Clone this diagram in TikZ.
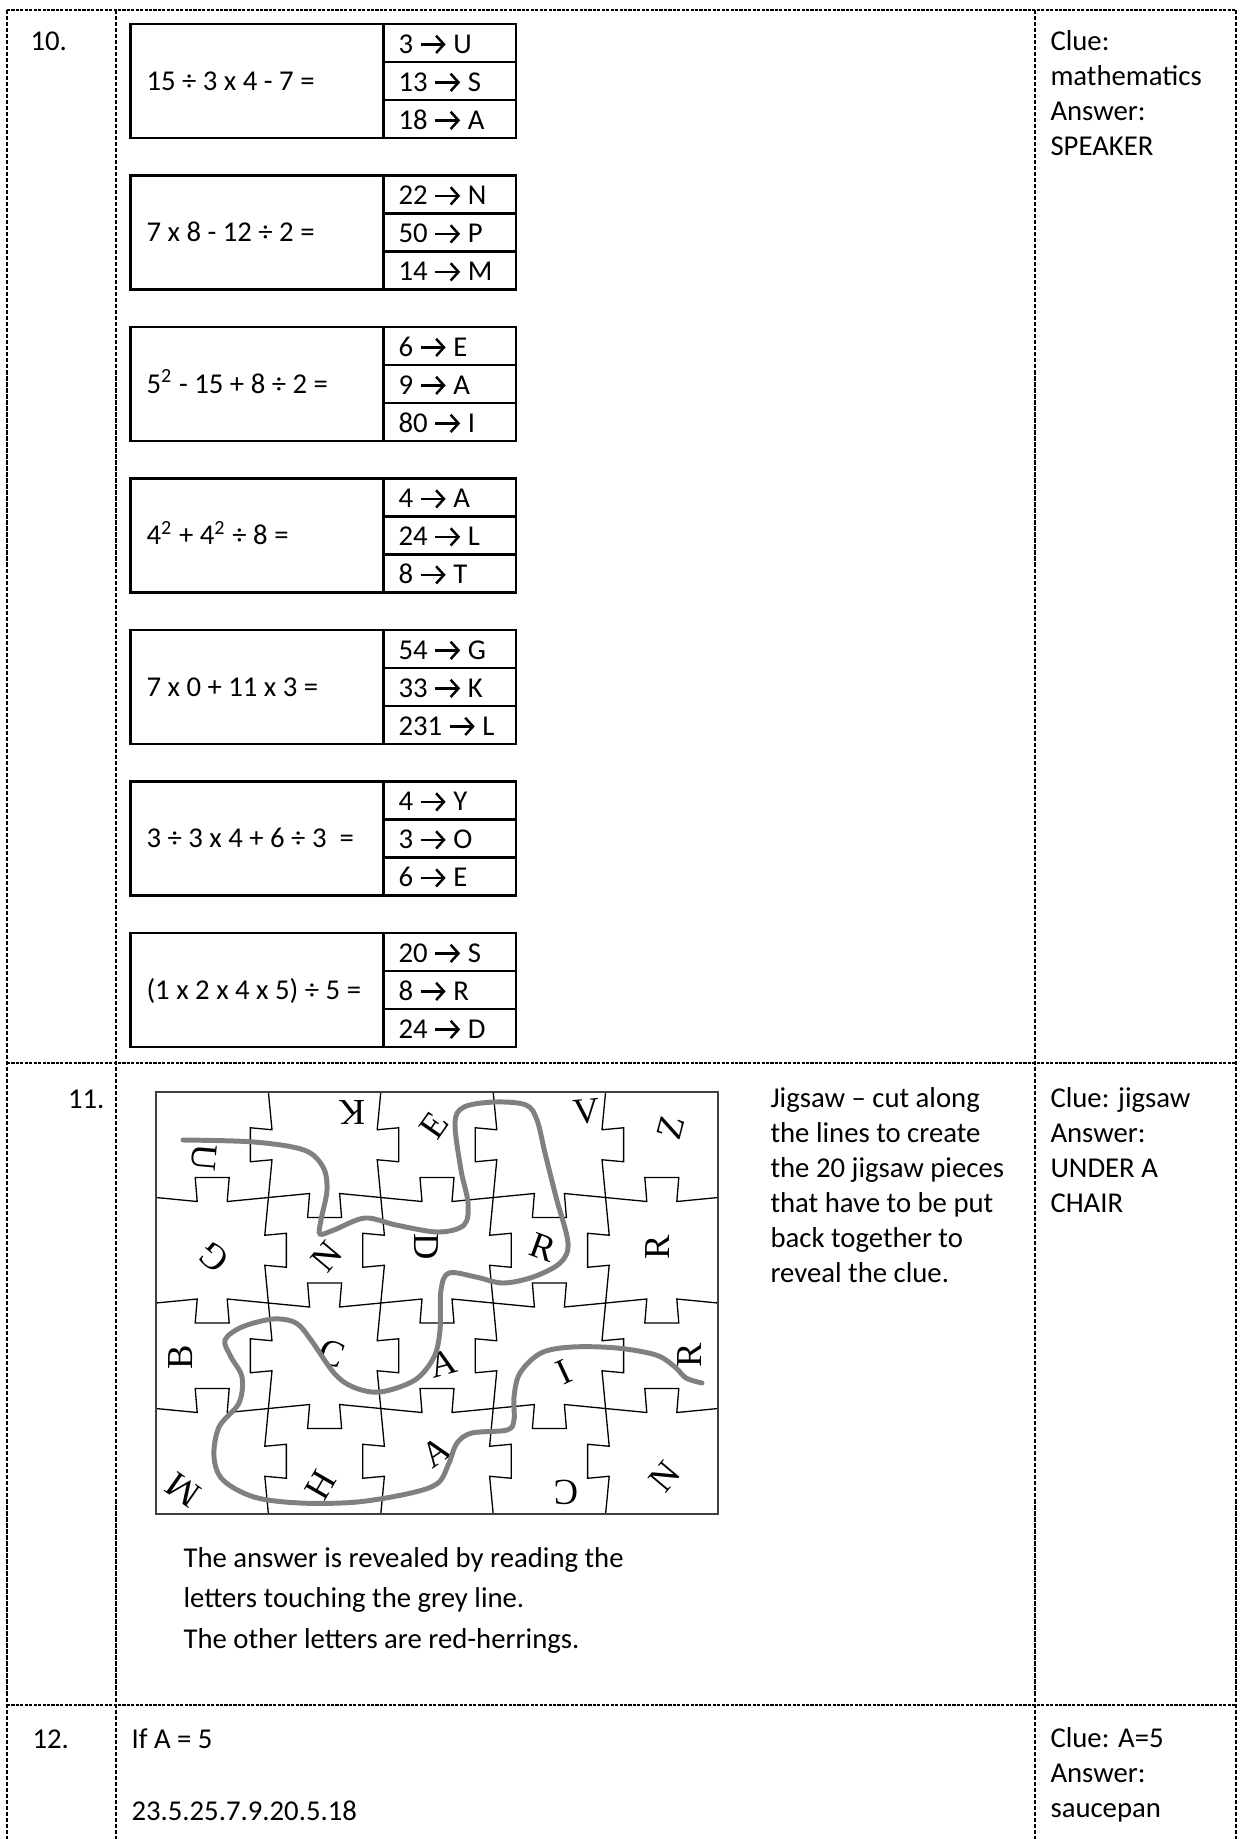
\documentclass[tikz,border=0pt]{standalone}
\usepackage{fontspec}
\usetikzlibrary{arrows.meta}
\setmainfont{Carlito}
\newfontfamily\letterfont{Liberation Serif}
\newcommand{\goesto}{\tikz[baseline=-3.3pt, x=1pt, y=1pt]
    \draw[line width=0.95pt, -{Straight Barb[length=3pt, width=6.6pt, line width=0.95pt]}] (0,0) -- (9.5,0);}
\begin{document}
\begin{tikzpicture}[x=0.383pt, y=-0.383pt,
    every node/.style={inner sep=0pt, anchor=base west, font=\fontsize{11}{13.4}\selectfont},
    colline/.style={dash pattern=on 1.6pt off 0.7pt, line width=0.7pt},
    rowline/.style={dash pattern=on 1.2pt off 0.5pt, line width=1.1pt},
    eqbox/.style={line width=0.9pt},
    cutline/.style={line width=0.5pt},
    puzzleframe/.style={line width=0.75pt, draw=black!75},
    greyline/.style={line width=1.9pt, draw=black!50, line cap=round},
    letter/.style={anchor=center, font=\letterfont\fontsize{14}{14}\selectfont}]
    \useasboundingbox (0,0) rectangle (1240,1839);

    % table
    \draw[colline] (7,10) -- (7,1839);
    \draw[colline] (116,10) -- (116,1839);
    \draw[colline] (1035,10) -- (1035,1839);
    \draw[colline] (1236,10) -- (1236,1839);
    \draw[rowline] (7,10) -- (1236,10);
    \draw[rowline] (7,1063) -- (1236,1063);
    \draw[rowline] (7,1705) -- (1236,1705);

    % row 10
    \node (num10) at (30,50) {10.};
    \foreach \eq/\ra/\rb/\rc [count=\n from 0] in {
        {15 ÷ 3 x 4 - 7 =}/{3 \goesto{} U}/{13 \goesto{} S}/{18 \goesto{} A},
        {7 x 8 - 12 ÷ 2 =}/{22 \goesto{} N}/{50 \goesto{} P}/{14 \goesto{} M},
        {5\textsuperscript{2} - 15 + 8 ÷ 2 =}/{6 \goesto{} E}/{9 \goesto{} A}/{80 \goesto{} I},
        {4\textsuperscript{2} + 4\textsuperscript{2} ÷ 8 =}/{4 \goesto{} A}/{24 \goesto{} L}/{8 \goesto{} T},
        {7 x 0 + 11 x 3 =}/{54 \goesto{} G}/{33 \goesto{} K}/{231 \goesto{} L},
        {3 ÷ 3 x 4 + 6 ÷ 3 \ =}/{4 \goesto{} Y}/{3 \goesto{} O}/{6 \goesto{} E},
        {(1 x 2 x 4 x 5) ÷ 5 =}/{20 \goesto{} S}/{8 \goesto{} R}/{24 \goesto{} D}} {
        \pgfmathsetmacro\bt{24+151.5*\n}
        \draw[eqbox] (130.5,\bt) rectangle (516,{\bt+114});
        \draw[eqbox] (383.5,\bt) -- (383.5,{\bt+114});
        \draw[eqbox] (383.5,{\bt+38}) -- (516,{\bt+38});
        \draw[eqbox] (383.5,{\bt+76}) -- (516,{\bt+76});
        \node (eq\n) at (146,{\bt+66}) {\eq};
        \node (ra\n) at (398,{\bt+29}) {\ra};
        \node (rb\n) at (398,{\bt+67}) {\rb};
        \node (rc\n) at (398,{\bt+105}) {\rc};
    }
    \foreach \txt [count=\k from 0] in {Clue:, mathematics, Answer:, SPEAKER}
        \node (clue10-\k) at (1050,{50+35*\k}) {\txt};

    % row 11: jigsaw
    \node[anchor=base east] (num11) at (105,1108) {11.};
    \foreach \ci in {1,...,4} {
        \draw[cutline] ({156+112.4*\ci},1092)
        \foreach \rw [evaluate=\rw as \cy using {1144.75+105.5*\rw},
                      evaluate=\rw as \d using {18-36*mod(\ci+\rw,2)}] in {0,...,3} {
            -- ({156+112.4*\ci-0.2*\d},{\cy-15}) -- ({156+112.4*\ci+\d},{\cy-17})
            -- ({156+112.4*\ci+\d},{\cy+17}) -- ({156+112.4*\ci-0.2*\d},{\cy+15})
        } -- ({156+112.4*\ci},1514);
    }
    \foreach \rj in {1,2,3} {
        \draw[cutline] (156,{1092+105.5*\rj})
        \foreach \cl [evaluate=\cl as \cx using {212.2+112.4*\cl},
                      evaluate=\cl as \d using {20-40*mod(\cl+\rj,2)}] in {0,...,4} {
            -- ({\cx-15},{1092+105.5*\rj-0.2*\d}) -- ({\cx-17},{1092+105.5*\rj+\d})
            -- ({\cx+17},{1092+105.5*\rj+\d}) -- ({\cx+15},{1092+105.5*\rj-0.2*\d})
        } -- (718,{1092+105.5*\rj});
    }
    \draw[puzzleframe] (156,1092) rectangle (718,1514);

    \node[letter, rotate=-95] (p11) at (204,1158) {U};
    \node[letter, rotate=180] (p12) at (352,1112) {K};
    \node[letter, rotate=55] (p13) at (434,1125) {E};
    \node[letter, rotate=5] (p14) at (587,1112) {V};
    \node[letter, rotate=75] (p15) at (671,1128) {Z};
    \node[letter, rotate=140] (p21) at (214,1257) {G};
    \node[letter, rotate=50] (p22) at (327,1257) {N};
    \node[letter, rotate=-90] (p23) at (426,1247) {D};
    \node[letter, rotate=-20] (p24) at (543,1247) {R};
    \node[letter, rotate=90] (p25) at (658,1247) {R};
    \node[letter, rotate=90] (p31) at (181,1357) {B};
    \node[letter, rotate=-20] (p32) at (332,1353) {C};
    \node[letter, rotate=15] (p33) at (443,1363) {A};
    \node[letter, rotate=25] (p34) at (564,1372) {I};
    \node[letter, rotate=90] (p35) at (690,1355) {R};
    \node[letter, rotate=145] (p41) at (183,1490) {M};
    \node[letter, rotate=60] (p42) at (321,1485) {H};
    \node[letter, rotate=35] (p43) at (436,1452) {A};
    \node[letter, rotate=180] (p44) at (566,1492) {C};
    \node[letter, rotate=50] (p45) at (665,1477) {N};

    \draw[greyline] plot[smooth, tension=0.55] coordinates {
        (183,1140) (254,1142) (304,1150) (323,1167) (327,1190) (321,1220) (320,1234)
        (334,1230) (365,1218) (396,1225) (438,1232) (464,1225) (468,1203) (461,1170)
        (455,1123) (464,1107) (495,1102) (526,1105) (537,1120) (545,1153) (556,1197)
        (568,1243) (560,1263) (533,1277) (503,1283) (476,1277) (449,1273) (441,1290)
        (440,1330) (434,1357) (415,1380) (380,1392) (353,1387) (334,1373) (311,1340)
        (296,1323) (273,1319) (242,1327) (225,1340) (231,1357) (242,1377) (239,1403)
        (219,1427) (214,1457) (223,1480) (254,1497) (300,1503) (357,1502) (411,1493)
        (438,1483) (449,1463) (457,1443) (472,1433) (507,1430) (514,1420) (514,1397)
        (520,1373) (541,1353) (572,1347) (617,1348) (656,1355) (675,1367) (686,1378)
        (702,1383)};

    \foreach \txt [count=\k from 0] in {Jigsaw – cut along, the lines to create,
        the 20 jigsaw pieces, that have to be put, back together to, reveal the clue.}
        \node (howto-\k) at (770,{1107+35*\k}) {\txt};
    \foreach \txt [count=\k from 0] in {The answer is revealed by reading the,
        letters touching the grey line., The other letters are red-herrings.}
        \node (reveal-\k) at (183,{1567+40.5*\k}) {\txt};
    \foreach \txt [count=\k from 0] in {Clue: jigsaw, Answer:, UNDER A, CHAIR}
        \node (clue11-\k) at (1050,{1107+35*\k}) {\txt};

    % row 12
    \node (num12) at (32,1748) {12.};
    \node (rule12) at (131,1748) {If A = 5};
    \node (code12) at (131,1820) {23.5.25.7.9.20.5.18};
    \foreach \txt [count=\k from 0] in {Clue: A=5, Answer:, saucepan}
        \node (clue12-\k) at (1050,{1747+35*\k}) {\txt};
\end{tikzpicture}
\end{document}
